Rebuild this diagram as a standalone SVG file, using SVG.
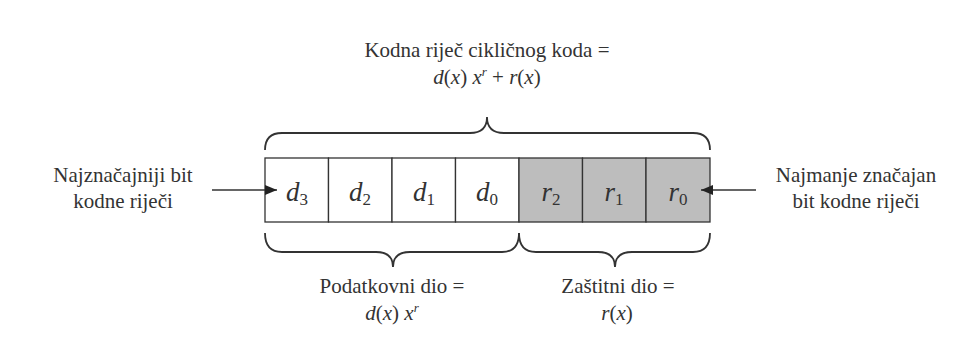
<svg xmlns="http://www.w3.org/2000/svg" width="968" height="356" viewBox="0 0 968 356" font-family="Liberation Serif, DejaVu Serif, serif">
<defs>
<style>
.t{font-size:21px;fill:#333;}
.c{font-size:27px;font-style:italic;fill:#333;}
.s{font-size:17px;font-style:normal;}
.cell{stroke:#333;stroke-width:1.3;}
.br{fill:none;stroke:#333;stroke-width:1.8;}
.ar{stroke:#333;stroke-width:1.5;fill:none;}
</style>
<marker id="ah" viewBox="0 0 12 10" refX="12" refY="5" markerWidth="12" markerHeight="10" markerUnits="userSpaceOnUse" orient="auto">
<path d="M0,0 L12,5 L0,10 Z" fill="#222"/>
</marker>
</defs>
<rect width="968" height="356" fill="#fff"/>
<g id="title">
<text class="t" x="487" y="57" text-anchor="middle" font-family="Liberation Serif, serif">Kodna riječ cikličnog koda =</text>
<text class="t" x="487" y="84" text-anchor="middle" font-family="Liberation Serif, serif"><tspan font-style="italic">d</tspan>(<tspan font-style="italic">x</tspan>) <tspan font-style="italic">x</tspan><tspan font-style="italic" font-size="13" dy="-8">r</tspan><tspan dy="8"> + </tspan><tspan font-style="italic">r</tspan>(<tspan font-style="italic">x</tspan>)</text>
</g>
<g id="codeword">
<rect class="cell" x="265" y="158" width="63.5" height="64" fill="#fff"/>
<rect class="cell" x="328.5" y="158" width="63.5" height="64" fill="#fff"/>
<rect class="cell" x="392" y="158" width="63.5" height="64" fill="#fff"/>
<rect class="cell" x="455.5" y="158" width="63.5" height="64" fill="#fff"/>
<rect class="cell" x="519" y="158" width="63.5" height="64" fill="#bdbdbd"/>
<rect class="cell" x="582.5" y="158" width="63.5" height="64" fill="#bdbdbd"/>
<rect class="cell" x="646" y="158" width="64" height="64" fill="#bdbdbd"/>
<text class="c" x="297" y="201" text-anchor="middle">d<tspan class="s" dy="4">3</tspan></text>
<text class="c" x="360" y="201" text-anchor="middle">d<tspan class="s" dy="4">2</tspan></text>
<text class="c" x="424" y="201" text-anchor="middle">d<tspan class="s" dy="4">1</tspan></text>
<text class="c" x="487" y="201" text-anchor="middle">d<tspan class="s" dy="4">0</tspan></text>
<text class="c" x="551" y="201" text-anchor="middle">r<tspan class="s" dy="4">2</tspan></text>
<text class="c" x="614" y="201" text-anchor="middle">r<tspan class="s" dy="4">1</tspan></text>
<text class="c" x="678" y="201" text-anchor="middle">r<tspan class="s" dy="4">0</tspan></text>
</g>
<g id="msb">
<text class="t" x="123" y="182" text-anchor="middle">Najznačajniji bit</text>
<text class="t" x="123" y="208" text-anchor="middle">kodne riječi</text>
</g>
<g id="lsb">
<text class="t" x="856" y="182" text-anchor="middle">Najmanje značajan</text>
<text class="t" x="856" y="208" text-anchor="middle">bit kodne riječi</text>
</g>
<g id="data-part">
<text class="t" x="392" y="293" text-anchor="middle">Podatkovni dio =</text>
<text class="t" x="392" y="320" text-anchor="middle"><tspan font-style="italic">d</tspan>(<tspan font-style="italic">x</tspan>) <tspan font-style="italic">x</tspan><tspan font-style="italic" font-size="13" dy="-8">r</tspan></text>
</g>
<g id="check-part">
<text class="t" x="618" y="293" text-anchor="middle">Zaštitni dio =</text>
<text class="t" x="617" y="320" text-anchor="middle"><tspan font-style="italic">r</tspan>(<tspan font-style="italic">x</tspan>)</text>
</g>
<g id="connectors">
<path class="br" d="M265,150 Q265,133 282,133 L470,133 Q487,133 487,117 Q487,133 504,133 L693,133 Q710,133 710,150"/>
<path class="br" d="M265,233 Q265,252 282,252 L376,252 Q393,252 393,267 Q393,252 410,252 L502,252 Q519,252 519,233"/>
<path class="br" d="M519,233 Q519,252 536,252 L598,252 Q615,252 615,267 Q615,252 632,252 L693,252 Q710,252 710,233"/>
<line class="ar" x1="212" y1="190" x2="277" y2="190" marker-end="url(#ah)"/>
<line class="ar" x1="756" y1="190" x2="701" y2="190" marker-end="url(#ah)"/>
</g>
</svg>
